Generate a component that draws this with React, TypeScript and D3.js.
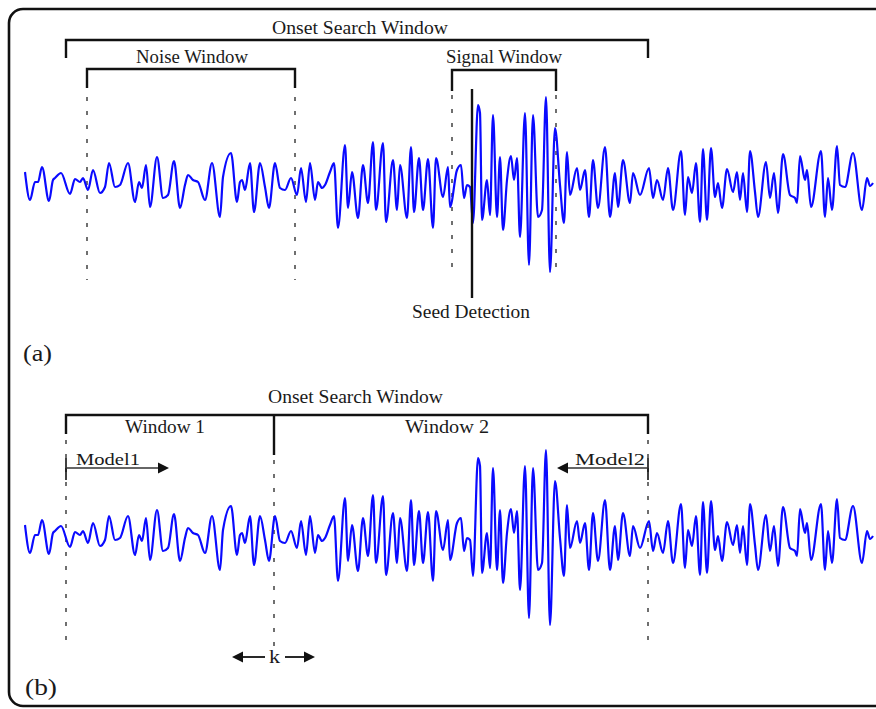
import React from 'react';
import * as d3 from 'd3';

// Seismic trace: sample time (samples) and amplitude (arbitrary units)
const traceT = [
  0, 5, 10, 13, 17, 24, 28, 30, 36, 45,
  50, 55, 58, 63, 68, 75, 80, 84, 90, 95,
  103, 110, 114, 117, 121, 125, 132, 138, 143, 149,
  155, 160, 163, 168, 173, 180, 187, 195, 198, 206,
  212, 215, 217, 220, 225, 229, 235, 240, 244, 250,
  255, 260, 266, 272, 276, 281, 285, 290, 293, 297,
  300, 305, 309, 313, 320, 323, 327, 333, 338, 343,
  348, 351, 358, 361, 368, 372, 375, 382, 386, 389,
  394, 398, 403, 408, 411, 418, 423, 425, 432, 436,
  439, 442, 445, 448, 453, 455, 457, 462, 465, 468,
  472, 475, 478, 482, 486, 489, 492, 495, 500, 504,
  508, 513, 517, 521, 525, 530, 535, 539, 542, 545,
  552, 555, 560, 564, 568, 573, 580, 585, 590, 593,
  598, 605, 608, 615, 624, 628, 632, 638, 643, 648,
  656, 660, 663, 667, 671, 675, 678, 682, 686, 690,
  693, 697, 702, 708, 712, 715, 718, 722, 725, 730,
  733, 741, 745, 749, 753, 758, 765, 770, 772, 775,
  780, 782, 786, 796, 800, 803, 807, 812, 815, 820,
  828, 837, 842, 845, 848,
];
const traceA = [
  11, -17, 1, 1, 16, -18, 3, 5, 10, -11,
  4, 1, 5, -7, 13, -10, -4, 20, -4, -2,
  20, -19, 1, -5, 18, -24, 26, -15, -12, 22,
  -25, -2, 8, 3, 1, -17, 20, -34, 6, 30,
  -19, 1, 3, -7, 20, -29, 20, -4, -25, 20,
  -5, -7, 5, -12, 15, -19, 20, -17, 1, -5,
  -2, 11, 20, -45, 38, -25, 11, -35, 18, -20,
  41, -27, 40, -39, 23, -27, 18, -35, 36, -29,
  25, -27, 24, -45, 25, -14, 16, -24, 13, 18,
  -15, -2, -4, -40, 78, 70, -37, 3, -32, 68,
  -34, 26, -47, 3, 27, 3, 25, -54, 70, -82,
  68, -34, -27, 86, -89, 55, -2, -40, 31, -12,
  15, -7, 13, -34, 23, -25, 36, -34, 10, -24,
  23, -20, 10, -12, 15, -15, 3, -17, 15, -27,
  32, -32, 6, -10, 20, -39, 34, -37, 35, -14,
  0, -25, 14, -9, 11, -17, 10, -29, 32, -9,
  -34, 21, -15, 10, -30, 29, -12, -15, -20, 27,
  3, 13, -24, 32, -34, 5, -27, 37, -2, -4,
  30, -27, 5, -3, 0,
];

// Windows (in samples)
const onsetWindow = [41, 623];
const noiseWindow = [62, 270];
const signalWindow = [427, 531];
const seedDetection = 447;
const window1 = [41, 249];
const window2 = [249, 623];
const kPoint = 249;

const labelsA = ['Onset Search Window', 'Noise Window', 'Signal Window', 'Seed Detection', '(a)'];
const labelsB = ['Onset Search Window', 'Window 1', 'Window 2', 'Model1', 'Model2', 'k', '(b)'];

const W = 876;
const H = 709;
const FONT = "'Liberation Serif', 'DejaVu Serif', serif";
const INK = '#111';
const TXT = '#1a1a1a';

function Label({ x1, x2, y, size, text }: { x1: number; x2: number; y: number; size: number; text: string }) {
  return (
    <text
      x={x1}
      y={y}
      fontFamily={FONT}
      fontSize={size}
      fill={TXT}
      textLength={x2 - x1}
      lengthAdjust="spacingAndGlyphs"
    >
      {text}
    </text>
  );
}

function Arrow({ x1, x2, y, color, width }: { x1: number; x2: number; y: number; color: string; width: number }) {
  const dir = x2 > x1 ? 1 : -1;
  const len = 11;
  const half = 5.5;
  const base = x2 - dir * len;
  return (
    <g>
      <line x1={x1} y1={y} x2={base} y2={y} stroke={color} strokeWidth={width} />
      <path d={`M${x2},${y} L${base},${y - half} L${base},${y + half} Z`} fill={INK} />
    </g>
  );
}

export default function App() {
  const x = d3.scaleLinear().domain([0, 848]).range([25, 873]);
  const yA = d3.scaleLinear().domain([-100, 100]).range([283, 83]);
  const yB = d3.scaleLinear().domain([-100, 100]).range([636, 436]);

  const pts = traceT.map((t, i) => [t, traceA[i]] as [number, number]);
  const mk = (ys: d3.ScaleLinear<number, number>) =>
    d3.line<[number, number]>().x((d) => x(d[0])).y((d) => ys(d[1])).curve(d3.curveMonotoneX)(pts) || '';
  const lineA = mk(yA);
  const lineB = mk(yB);

  const dash = { stroke: '#333', strokeWidth: 1.4, strokeDasharray: '4 10' };
  const br = { stroke: INK, strokeWidth: 2.4, fill: 'none' };

  const bracket = (a: number, b: number, y: number, drop: number) =>
    `M${x(a)},${y + drop} L${x(a)},${y} L${x(b)},${y} L${x(b)},${y + drop}`;

  return (
    <svg
      width={W}
      height={H}
      viewBox={`0 0 ${W} ${H}`}
      style={{ position: 'absolute', left: 0, top: 0, background: '#fff' }}
    >
      <rect x={9} y={9} width={920} height={697} rx={14} ry={14} fill="#fff" stroke={INK} strokeWidth={2.6} />

      {/* ---------- Panel (a) ---------- */}
      <Label x1={272} x2={448} y={34} size={19} text={labelsA[0]} />
      <path d={bracket(onsetWindow[0], onsetWindow[1], 40, 18)} {...br} />
      <Label x1={136} x2={248} y={63} size={18} text={labelsA[1]} />
      <path d={bracket(noiseWindow[0], noiseWindow[1], 69, 19)} {...br} />
      <Label x1={446} x2={562} y={63} size={18} text={labelsA[2]} />
      <path d={bracket(signalWindow[0], signalWindow[1], 70, 21)} {...br} />

      {[noiseWindow[0], noiseWindow[1]].map((t, i) => (
        <line key={'na' + i} x1={x(t)} x2={x(t)} y1={97} y2={280} {...dash} />
      ))}
      {[signalWindow[0], signalWindow[1]].map((t, i) => (
        <line key={'sa' + i} x1={x(t)} x2={x(t)} y1={95} y2={277} {...dash} />
      ))}

      <path d={lineA} fill="none" stroke="#0a0aff" strokeWidth={2.2} />

      <line x1={x(seedDetection)} x2={x(seedDetection)} y1={89} y2={298} stroke={INK} strokeWidth={2.4} />
      <Label x1={412} x2={530} y={318} size={19} text={labelsA[3]} />
      <Label x1={23} x2={52} y={361} size={23} text={labelsA[4]} />

      {/* ---------- Panel (b) ---------- */}
      <Label x1={268} x2={443} y={403} size={19} text={labelsB[0]} />
      <path d={bracket(onsetWindow[0], onsetWindow[1], 415, 19)} {...br} />
      <line x1={x(kPoint)} x2={x(kPoint)} y1={415} y2={455} stroke={INK} strokeWidth={2.4} />
      <Label x1={125} x2={205} y={433} size={18} text={labelsB[1]} />
      <Label x1={405} x2={489} y={433} size={18} text={labelsB[2]} />

      <line x1={x(window1[0])} x2={x(window1[0])} y1={440} y2={646} {...dash} />
      <line x1={x(kPoint)} x2={x(kPoint)} y1={460} y2={646} {...dash} />
      <line x1={x(window2[1])} x2={x(window2[1])} y1={440} y2={646} {...dash} />

      <path d={lineB} fill="none" stroke="#0a0aff" strokeWidth={2.2} />

      {/* Model arrows */}
      <line x1={x(window1[0])} x2={x(window1[0])} y1={458} y2={480} stroke={INK} strokeWidth={1.6} />
      <Arrow x1={x(window1[0])} x2={x(window1[0]) + 103} y={468} color="#333" width={1.6} />
      <Label x1={76} x2={140} y={465} size={17} text={labelsB[3]} />
      <line x1={x(window2[1])} x2={x(window2[1])} y1={458} y2={480} stroke={INK} strokeWidth={1.6} />
      <Arrow x1={x(window2[1])} x2={x(window2[1]) - 91} y={468} color="#333" width={1.6} />
      <Label x1={575} x2={645} y={465} size={17} text={labelsB[4]} />

      {/* k arrows */}
      <Arrow x1={x(kPoint) - 9} x2={x(kPoint) - 42} y={657} color={INK} width={1.8} />
      <Arrow x1={x(kPoint) + 11} x2={x(kPoint) + 41} y={657} color={INK} width={1.8} />
      <Label x1={269} x2={280} y={663} size={18} text={labelsB[5]} />

      <Label x1={25} x2={57} y={695} size={23} text={labelsB[6]} />
    </svg>
  );
}
